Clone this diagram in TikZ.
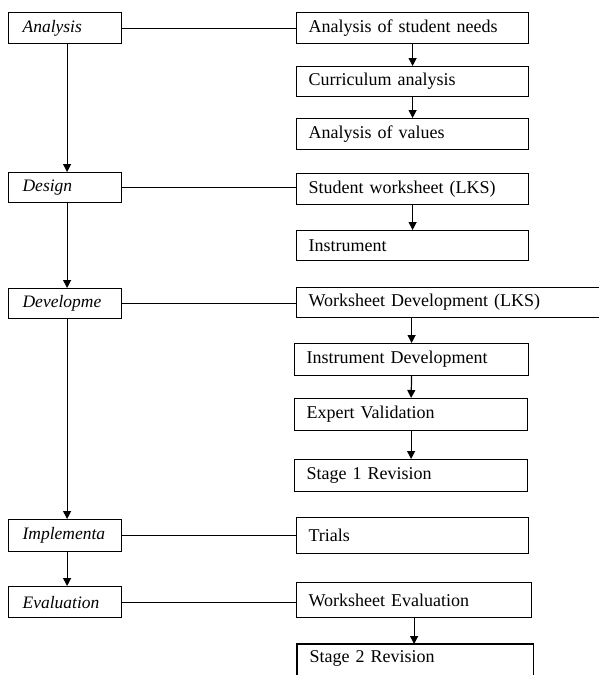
\documentclass[tikz,border=0pt]{standalone}
\usepackage{fontspec}
\setmainfont{Liberation Serif}
\usetikzlibrary{arrows.meta}
\begin{document}
\begin{tikzpicture}[x=1pt,y=-1pt,
  every node/.style={anchor=north west, inner ysep=0pt, align=left,
    font=\fontsize{18}{20}\selectfont, line width=1.2pt},
  lbox/.style={draw, inner xsep=14pt, text width=85pt, font=\fontsize{17.5}{20}\selectfont\itshape},
  rbox/.style={draw, inner xsep=12pt},
  conn/.style={line width=1.2pt},
  arr/.style={line width=1.2pt, -{Triangle[width=8pt,length=8pt]}}]
\useasboundingbox (0,0) rectangle (598,675);
% left column
\node[lbox, minimum height=31pt] (an) at (8,12) {Analysis};
\node[lbox, minimum height=30pt] (de) at (8,172) {Design};
\node[lbox, minimum height=30pt] (dv) at (8,288) {Developme};
\node[lbox, minimum height=32pt] (im) at (8,519) {Implementa};
\node[lbox, minimum height=31pt] (ev) at (8,586) {Evaluation};
% right column
\node[rbox, text width=208pt, minimum height=31pt] (a1) at (296,12) {Analysis of student needs};
\node[rbox, text width=208pt, minimum height=30pt] (a2) at (296,66) {Curriculum analysis};
\node[rbox, text width=208pt, minimum height=31pt] (a3) at (296,118) {Analysis of values};
\node[rbox, text width=208pt, minimum height=31pt] (d1) at (296,173) {Student worksheet (LKS)};
\node[rbox, text width=208pt, minimum height=30pt] (d2) at (296,230) {Instrument};
\node[rbox, text width=300pt, minimum height=30pt] (v1) at (296,287) {Worksheet Development (LKS)};
\node[rbox, text width=210pt, minimum height=32pt] (v2) at (294,343) {Instrument Development};
\node[rbox, text width=209pt, minimum height=32pt] (v3) at (294,398) {Expert Validation};
\node[rbox, text width=209pt, minimum height=32pt] (v4) at (294,459) {Stage 1 Revision};
\node[rbox, text width=208pt, minimum height=36pt] (i1) at (296,517) {Trials};
\node[rbox, text width=211pt, minimum height=35pt] (e1) at (296,582) {Worksheet Evaluation};
\node[inner xsep=12pt, text width=211pt, minimum height=27pt] (e2) at (297,644) {Stage 2 Revision};
\draw[conn] (e2.south west) ++(0,12) -- (e2.north west) -- (e2.north east) -- ++(0,40);
% left arrows
\draw[arr] ([xshift=2pt]an.south) -- ([xshift=2pt]de.north);
\draw[arr] ([xshift=2pt]de.south) -- ([xshift=2pt]dv.north);
\draw[arr] ([xshift=2pt]dv.south) -- ([xshift=2pt]im.north);
\draw[arr] ([xshift=2pt]im.south) -- ([xshift=2pt]ev.north);
% horizontal connectors
\draw[conn] (an.east) -- (an.east -| a1.west);
\draw[conn] (de.east) -- (de.east -| d1.west);
\draw[conn] (dv.east) -- (dv.east -| v1.west);
\draw[conn] (im.east) -- (im.east -| i1.west);
\draw[conn] (ev.east) -- (ev.east -| e1.west);
% right arrows
\draw[arr] (a1.south) -- (a2.north);
\draw[arr] (a2.south) -- (a3.north);
\draw[arr] (d1.south) -- (d2.north);
\draw[arr] (v1.south -| v2.north) -- (v2.north);
\draw[arr] (v2.south) -- (v3.north);
\draw[arr] (v3.south) -- (v4.north);
\draw[arr] (e1.south) -- (e1.south |- e2.north);
\end{tikzpicture}
\end{document}
